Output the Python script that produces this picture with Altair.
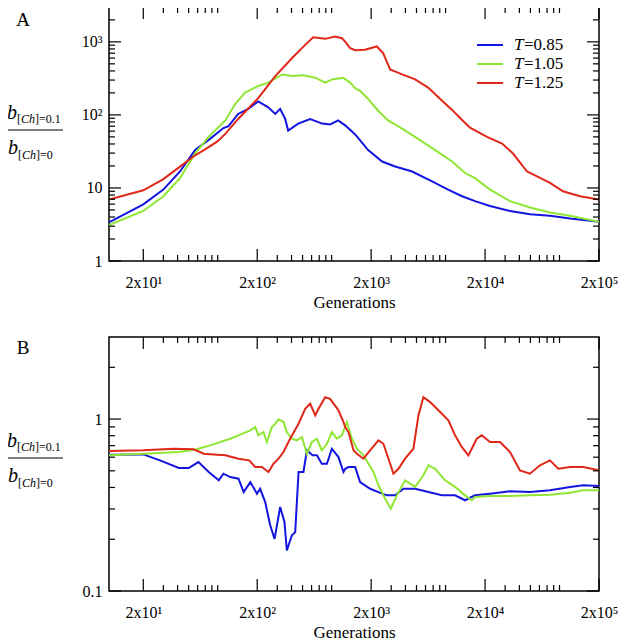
import altair as alt
import pandas as pd

FONT = "Liberation Serif"
W, H = 490, 254
C_BLUE, C_GREEN, C_RED = "#1414e0", "#8fe633", "#e0281a"
NAMES = ["T=0.85", "T=1.05", "T=1.25"]

# ---------------- Panel A ----------------
a_blue_g = [10, 20, 30, 42, 57, 77, 101, 112, 136, 167, 204, 250, 288, 318, 352, 374, 458, 583, 743, 873,
            1027, 1183, 1448, 1882, 2497, 3247, 4578, 6855, 9470, 12570, 16330, 22100, 33100, 49600, 74300,
            111400, 200000]
a_blue_v = [3.37, 5.95, 9.5, 16.8, 33, 47, 66, 70, 103, 121, 153, 127, 103, 121, 88, 61, 76, 88, 76, 74,
            84, 72, 54, 33, 23, 19.7, 16.8, 12.3, 9.5, 7.7, 6.6, 5.66, 4.84, 4.36, 4.15, 3.81, 3.44]

a_green_g = [10, 20, 30, 42, 57, 77, 105, 128, 157, 204, 250, 331, 405, 506, 646, 790, 910, 1136, 1308, 1448,
             1600, 1882, 2302, 2818, 3738, 5168, 7282, 10270, 13350, 16330, 22100, 33100, 49600, 74300,
             111400, 200000]
a_green_v = [3.1, 4.84, 7.7, 13.6, 29.7, 52.5, 84, 141, 203, 249, 277, 358, 340, 350, 323, 277, 306, 323, 277, 232,
             213, 165, 114, 84, 65, 47, 33, 23, 16, 13.6, 9.5, 6.6, 5.4, 4.6, 4.15, 3.44]

a_red_g = [10, 20, 30, 42, 57, 68, 89, 105, 136, 204, 288, 405, 527, 620, 790, 967, 1107, 1183, 1308, 1448,
           1770, 2243, 2548, 2936, 3738, 4864, 6324, 8389, 10270, 12570, 14760, 20800, 28200, 35200, 46700,
           57200, 74300, 96600, 136200, 200000]
a_red_v = [6.95, 9.3, 13.2, 19.6, 28, 33, 43, 55, 88, 170, 340, 602, 910, 1158, 1099, 1180, 1122, 1009, 822, 770,
           780, 864, 703, 419, 358, 306, 237, 156, 117, 85, 67, 50, 40.5, 29.6, 16.8, 14.4, 11.7, 9.0, 7.7, 6.95]

# ---------------- Panel B ----------------
b_blue_g = [10, 20, 28, 41, 50, 61, 75, 92, 101, 116, 137, 152, 174, 199, 212, 235, 260, 284, 318, 347,
            364, 403, 431, 461, 509, 546, 611, 668, 738, 818, 904, 1033, 1143, 1183, 1264, 1448, 1600, 1959,
            2317, 2746, 3248, 3840, 4864, 6366, 8339, 10900, 13350, 16330, 22100, 33100, 49580, 74300,
            111400, 145700, 200000]
b_blue_v = [0.620, 0.623, 0.575, 0.519, 0.519, 0.562, 0.492, 0.44, 0.481, 0.46, 0.45, 0.376, 0.43, 0.368, 0.393,
            0.329, 0.241, 0.201, 0.308, 0.252, 0.172, 0.211, 0.22, 0.492, 0.492, 0.658, 0.615, 0.615, 0.55,
            0.55, 0.672, 0.601, 0.492, 0.514, 0.526, 0.526, 0.43, 0.393, 0.376, 0.36, 0.36, 0.393, 0.393,
            0.376, 0.36, 0.36, 0.337, 0.36, 0.368, 0.38, 0.376, 0.385, 0.403, 0.412, 0.408]

b_green_g = [10, 20, 41, 59, 77, 116, 137, 174, 192, 205, 227, 243, 269, 288, 308, 340, 364, 403, 446, 493,
             546, 604, 668, 738, 818, 904, 1000, 1107, 1224, 1355, 1500, 1711, 1893, 2094, 2317, 2654, 2979,
             3360, 3973, 4864, 5754, 6366, 7284, 8912, 10900, 13350, 15270, 16330, 22100, 33100, 49580,
             74300, 111400, 145700, 200000]
b_green_v = [0.615, 0.628, 0.643, 0.667, 0.703, 0.768, 0.804, 0.86, 0.899, 0.804, 0.84, 0.735, 0.899, 0.939,
             0.996, 0.961, 0.84, 0.768, 0.752, 0.786, 0.628, 0.735, 0.768, 0.658, 0.718, 0.84, 0.768, 0.804,
             0.961, 0.768, 0.672, 0.615, 0.55, 0.492, 0.412, 0.344, 0.301, 0.36, 0.44, 0.403, 0.471, 0.538,
             0.514, 0.44, 0.403, 0.36, 0.337, 0.352, 0.357, 0.357, 0.36, 0.363, 0.373, 0.385, 0.385]

b_red_g = [10, 20, 37, 55, 68, 89, 105, 137, 170, 192, 220, 251, 278, 308, 340, 389, 461, 527, 583, 646,
           690, 790, 873, 1033, 1143, 1183, 1264, 1400, 1500, 1711, 1959, 2317, 2563, 2837, 3140, 3473, 3973,
           4699, 5200, 5754, 6590, 7787, 9527, 10900, 12490, 14270, 16900, 18680, 22100, 27050, 33100,
           40510, 49580, 60680, 74300, 87860, 111400, 145700, 200000]
b_red_v = [0.652, 0.658, 0.672, 0.667, 0.628, 0.620, 0.615, 0.588, 0.575, 0.526, 0.526, 0.492, 0.550, 0.588,
           0.643, 0.768, 0.939, 1.148, 1.23, 1.05, 1.148, 1.34, 1.31, 1.124, 0.961, 0.899, 0.84, 0.658, 0.628,
           0.588, 0.658, 0.752, 0.718, 0.588, 0.481, 0.514, 0.588, 0.672, 1.05, 1.34, 1.255, 1.124, 0.983,
           0.804, 0.688, 0.615, 0.768, 0.804, 0.735, 0.735, 0.643, 0.503, 0.481, 0.538, 0.575, 0.514, 0.526,
           0.526, 0.503]

# ---------------- ticks and labels ----------------
x_major = [20, 200, 2000, 20000, 200000]
x_minor = [30, 40, 50, 60, 70, 80, 90, 300, 400, 500, 600, 700, 800, 900,
           3000, 4000, 5000, 6000, 7000, 8000, 9000, 30000, 40000, 50000, 60000, 70000, 80000, 90000]
x_label_expr = ("datum.value < 100 ? '2x10\u00b9' : datum.value < 1000 ? '2x10\u00b2' : "
                "datum.value < 10000 ? '2x10\u00b3' : datum.value < 100000 ? '2x10\u2074' : '2x10\u2075'")

a_y_major = [1, 10, 100, 1000]
a_y_minor = [2, 3, 4, 5, 6, 7, 8, 9, 20, 30, 40, 50, 60, 70, 80, 90,
             200, 300, 400, 500, 600, 700, 800, 900, 2000]
a_y_label_expr = ("datum.value < 5 ? '1' : datum.value < 50 ? '10' : "
                  "datum.value < 500 ? '10\u00b2' : '10\u00b3'")
a_domain = [1, 3000]

b_y_major = [0.1, 1]
b_y_minor = [0.2, 0.3, 0.4, 0.5, 0.6, 0.7, 0.8, 0.9, 2]
b_y_label_expr = "datum.value < 0.5 ? '0.1' : '1'"
b_domain = [0.1, 3]

XDOM = [10, 200000]


def one(t):
    return pd.DataFrame({"t": [t]})


def txt(s, x, y, size, italic=False, align="left", baseline="alphabetic"):
    return alt.Chart(one(s)).mark_text(
        font=FONT, fontSize=size, fontStyle="italic" if italic else "normal",
        align=align, baseline=baseline, color="black"
    ).encode(x=alt.value(x), y=alt.value(y), text="t:N")


def panel(series, y_major, y_minor, y_expr, ydom, letter, dy, legend):
    xs = alt.Scale(type="log", domain=XDOM, nice=False)
    ys = alt.Scale(type="log", domain=ydom, nice=False)
    xax = alt.Axis(values=x_major, labelExpr=x_label_expr, ticks=False, tickSize=0, domain=False, grid=False,
                   labelPadding=13, labelFlush=False, labelFont=FONT, labelFontSize=16, labelColor="black",
                   title="Generations", titleFont=FONT, titleFontSize=17, titleFontWeight="normal",
                   titleColor="black", titlePadding=4)
    yax = alt.Axis(values=y_major, labelExpr=y_expr, ticks=False, tickSize=0, domain=False, grid=False,
                   labelPadding=7, labelFlush=False, labelFont=FONT, labelFontSize=16, labelColor="black",
                   title="")
    X = lambda: alt.X("g:Q", scale=xs, axis=xax)
    Y = lambda: alt.Y("v:Q", scale=ys, axis=yax)

    frames = []
    for name, g, v in series:
        frames.append(pd.DataFrame({"g": g, "v": v, "s": name}))
    df = pd.concat(frames, ignore_index=True)

    lines = alt.Chart(df).mark_line(clip=True, strokeWidth=2).encode(
        x=X(), y=Y(),
        color=alt.Color("s:N", scale=alt.Scale(domain=NAMES, range=[C_BLUE, C_GREEN, C_RED]), legend=None),
        detail="s:N",
    )

    layers = [lines]
    dfx_maj = pd.DataFrame({"g": x_major})
    dfx_min = pd.DataFrame({"g": x_minor})
    dfy_maj = pd.DataFrame({"v": y_major})
    dfy_min = pd.DataFrame({"v": y_minor})
    for dfx, L in ((dfx_maj, 12), (dfx_min, 6)):
        for y0, y1 in ((H, H - L), (0, L)):
            layers.append(alt.Chart(dfx).mark_rule(color="black", strokeWidth=1.2).encode(
                x=X(), y=alt.value(y0), y2=alt.value(y1)))
    for dfy, L in ((dfy_maj, 12), (dfy_min, 6)):
        for x0, x1 in ((0, L), (W, W - L)):
            layers.append(alt.Chart(dfy).mark_rule(color="black", strokeWidth=1.2).encode(
                y=Y(), x=alt.value(x0), x2=alt.value(x1)))

    # panel letter
    layers.append(txt(letter, -86, 19 + dy, 19, align="center"))
    # y title as a fraction
    layers.append(txt("b", -102, 112 + dy, 20, italic=True))
    layers.append(txt("[", -92, 116 + dy, 12))
    layers.append(txt("Ch", -88, 116 + dy, 12, italic=True))
    layers.append(txt("]=0.1", -74, 116 + dy, 12))
    layers.append(alt.Chart(one("r")).mark_rule(color="black", strokeWidth=1).encode(
        x=alt.value(-103), x2=alt.value(-46), y=alt.value(123 + dy)))
    layers.append(txt("b", -101, 147 + dy, 20, italic=True))
    layers.append(txt("[", -91, 152 + dy, 12))
    layers.append(txt("Ch", -87, 152 + dy, 12, italic=True))
    layers.append(txt("]=0", -73, 152 + dy, 12))

    if legend:
        for i, (name, col) in enumerate(zip(NAMES, [C_BLUE, C_GREEN, C_RED])):
            yy = 38 + 19 * i
            layers.append(alt.Chart(one(name)).mark_rule(color=col, strokeWidth=2).encode(
                x=alt.value(368), x2=alt.value(394), y=alt.value(yy)))
            layers.append(txt("T", 405, yy, 17, italic=True, baseline="middle"))
            layers.append(txt(name[1:], 415, yy, 17, baseline="middle"))

    return alt.layer(*layers).properties(width=W, height=H)


pA = panel([("T=0.85", a_blue_g, a_blue_v), ("T=1.05", a_green_g, a_green_v), ("T=1.25", a_red_g, a_red_v)],
           a_y_major, a_y_minor, a_y_label_expr, a_domain, "A", 0, True)
pB = panel([("T=0.85", b_blue_g, b_blue_v), ("T=1.05", b_green_g, b_green_v), ("T=1.25", b_red_g, b_red_v)],
           b_y_major, b_y_minor, b_y_label_expr, b_domain, "B", -2, False)

chart = alt.vconcat(
    pA, pB, spacing=76, bounds="flush",
    padding={"left": -4, "top": -3, "right": 0, "bottom": 0}
).configure_view(
    stroke="black", strokeWidth=1.5
).configure_axis(
    labelFont=FONT, titleFont=FONT, labelColor="black", titleColor="black", titleFontWeight="normal"
)

chart.save("out.html", embed_options={"renderer": "svg", "actions": False})
